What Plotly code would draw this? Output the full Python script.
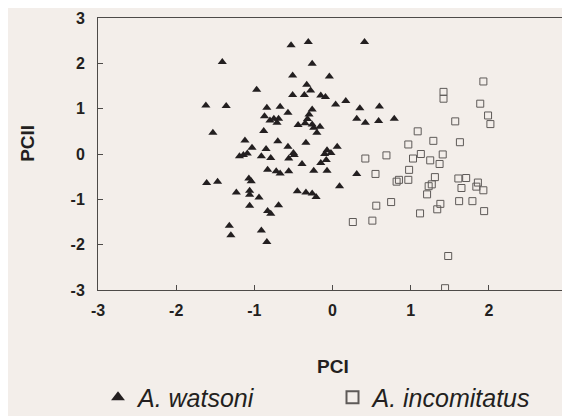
import plotly.graph_objects as go

# A. watsoni (triangles)
watsoni_x = [-1.41, -0.97, -1.62, -1.36, -1.53, -0.53, -0.31, -0.26, -0.51, -0.33,
             -0.28, -0.51, -0.36, -0.84, -0.67, -0.26, -0.87, -0.57, -0.80, -0.75,
             -0.69, -0.71, -0.30, -0.32, -0.44, -0.35, -0.26, -0.24, -0.16, -0.20,
             -0.88, -0.34, -1.12, -0.70, -1.03, -0.85, -0.57, -0.50, -0.49, -0.56,
             -1.19, -1.14, -1.09, -0.91, -0.79, -0.39, -1.61, -1.47, -1.07, -1.04,
             -1.23, -1.06, -1.06, -0.94, -1.06, -0.69, -0.83, -0.79, -1.32, -1.30,
             -0.91, -0.84, -0.83, -0.72, -0.67, -0.56, -0.24, -0.45, -0.34, -0.26,
             -0.21, 0.41, -0.04, -0.15, -0.09, 0.04, 0.17, 0.35, 0.60, 0.31,
             0.42, 0.59, 0.79, -0.07, -0.10, -0.02, 0.06, -0.15, -0.08, -0.07,
             0.09, 0.31]
watsoni_y = [2.03, 1.42, 1.07, 1.06, 0.47, 2.40, 2.47, 1.99, 1.73, 1.53,
             1.40, 1.30, 1.30, 1.02, 1.04, 0.98, 0.83, 0.91, 0.74, 0.78,
             0.78, 0.69, 0.87, 0.77, 0.64, 0.68, 0.65, 0.58, 0.60, 0.47,
             0.51, 0.25, 0.30, 0.28, 0.14, 0.11, 0.16, 0.02, -0.02, -0.10,
             -0.05, -0.02, 0.01, -0.05, -0.09, -0.22, -0.64, -0.61, -0.54, -0.60,
             -0.85, -0.81, -0.90, -0.96, -1.14, -1.13, -1.26, -1.32, -1.58, -1.79,
             -1.69, -1.94, -0.35, -0.38, -0.43, -0.38, -0.37, -0.82, -0.85, -0.87,
             -0.95, 2.47, 1.71, 1.29, 1.26, 1.09, 1.17, 1.01, 1.05, 0.78,
             0.69, 0.73, 0.78, 0.08, 0.00, 0.02, 0.16, -0.20, -0.13, -0.37,
             -0.71, -0.44]

# A. incomitatus (open squares)
incomitatus_x = [1.93, 1.42, 1.42, 1.89, 1.99, 2.02, 1.57, 1.09, 1.29, 0.97,
                 1.63, 0.42, 0.69, 1.13, 1.03, 1.25, 1.41, 1.37, 0.55, 0.98,
                 0.85, 0.82, 0.97, 1.31, 1.27, 1.23, 1.21, 1.61, 1.71, 1.65,
                 1.86, 1.84, 1.93, 1.38, 1.34, 1.12, 1.62, 1.79, 1.94, 0.56,
                 0.75, 0.26, 0.51, 1.48, 1.44]
incomitatus_y = [1.60, 1.37, 1.22, 1.11, 0.85, 0.66, 0.72, 0.50, 0.29, 0.21,
                 0.26, -0.10, -0.03, 0.00, -0.10, -0.14, -0.01, -0.22, -0.44, -0.35,
                 -0.57, -0.61, -0.57, -0.51, -0.67, -0.71, -0.89, -0.54, -0.53, -0.75,
                 -0.63, -0.72, -0.80, -1.10, -1.22, -1.31, -1.04, -1.04, -1.26, -1.14,
                 -1.06, -1.50, -1.47, -2.25, -2.96]

tick_vals = [-3, -2, -1, 0, 1, 2, 3]
tick_text = ["-3", "-2", "-1", "0", "1", "2", "3"]

BG = "#f3eeea"
INK = "#231f20"
AXIS = "#4d4a48"
FONT = "Liberation Sans, Arial, sans-serif"

fig = go.Figure()
fig.add_trace(go.Scatter(
    x=watsoni_x, y=watsoni_y, mode="markers", name="A. watsoni", legend="legend",
    marker=dict(symbol="triangle-up", size=8, color=INK, line=dict(width=0)),
))
fig.add_trace(go.Scatter(
    x=incomitatus_x, y=incomitatus_y, mode="markers", name="A. incomitatus", legend="legend2",
    marker=dict(symbol="square-open", size=7, color="#5e5a58", line=dict(width=1)),
))

axis_common = dict(
    range=[-3, 3], tickvals=tick_vals, ticktext=tick_text,
    showgrid=False, zeroline=False, showline=True, linecolor=AXIS, linewidth=1,
    mirror=True, ticks="inside", ticklen=5, tickcolor=AXIS, tickwidth=1,
    ticklabeloverflow="allow",
    tickfont=dict(family=FONT, size=16, color=INK, weight="bold"),
)

fig.update_xaxes(**axis_common, ticklabelstandoff=6)
fig.update_yaxes(**axis_common, ticklabelstandoff=9)

legend_common = dict(
    orientation="h", xanchor="left", y=0.064, yanchor="middle",
    yref="container", bgcolor="rgba(0,0,0,0)",
    font=dict(family=FONT, size=25, color=INK, style="italic"),
    itemsizing="constant",
)

fig.update_layout(
    width=570, height=416,
    margin=dict(l=90, r=11, t=10, b=134, autoexpand=False),
    paper_bgcolor=BG, plot_bgcolor=BG,
    showlegend=True,
    legend=dict(x=0.0, **legend_common),
    legend2=dict(x=0.5, **legend_common),
    annotations=[
        dict(text="<b>PCI</b>", xref="paper", yref="paper", x=0.5, y=-0.28,
             xanchor="center", yanchor="middle", showarrow=False,
             font=dict(family=FONT, size=19, color=INK)),
        dict(text="<b>PCII</b>", xref="paper", yref="paper", x=-0.152, y=0.54,
             xanchor="center", yanchor="middle", showarrow=False, textangle=-90,
             font=dict(family=FONT, size=19, color=INK)),
    ],
)

fig.write_html("out.html")
